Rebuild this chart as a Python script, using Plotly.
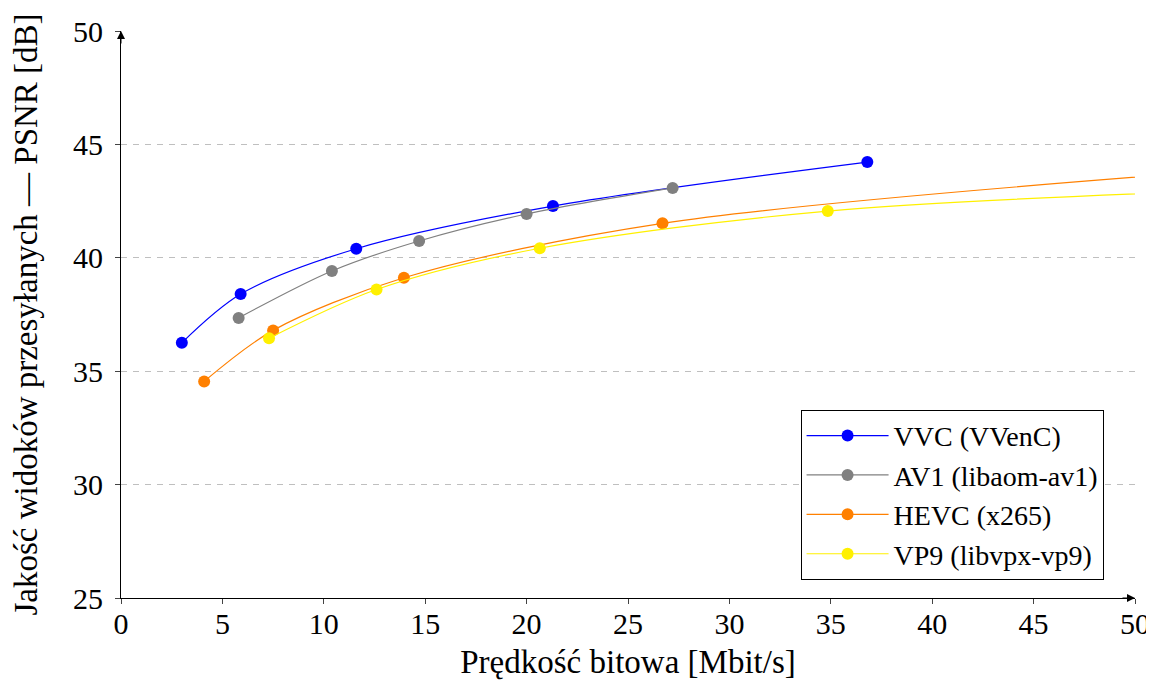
import plotly.graph_objects as go

# Data
vvc_x = [3.0, 5.9, 11.6, 21.3, 36.8]
vvc_y = [36.25, 38.4, 40.4, 42.28, 44.22]

av1_x = [5.8, 10.4, 14.7, 20.0, 27.2]
av1_y = [37.35, 39.42, 40.74, 41.93, 43.08]

hevc_x = [4.1, 7.5, 13.95, 26.7, 56.5]
hevc_y = [34.55, 36.8, 39.12, 41.52, 44.0]

vp9_x = [7.3, 12.6, 20.65, 34.85, 58.0]
vp9_y = [36.45, 38.6, 40.42, 42.06, 43.1]

names = ["VVC (VVenC)", "AV1 (libaom-av1)", "HEVC (x265)", "VP9 (libvpx-vp9)"]
colors = ["#0000ff", "#808080", "#ff8000", "#fff000"]

x_ticks = [0, 5, 10, 15, 20, 25, 30, 35, 40, 45, 50]
y_ticks = [25, 30, 35, 40, 45, 50]

FONT = "Liberation Serif"
FS_TICK = 30
FS_TEXT = 33
FS_LEG = 28

fig = go.Figure()
for xs, ys, nm, c in zip([vvc_x, av1_x, hevc_x, vp9_x], [vvc_y, av1_y, hevc_y, vp9_y], names, colors):
    fig.add_trace(go.Scatter(
        x=xs, y=ys, name=nm, mode="lines+markers",
        line=dict(color=c, width=1.2, shape="spline", smoothing=0.9),
        marker=dict(color=c, size=12),
        cliponaxis=True,
    ))

# the page body has an 8px margin, so the figure is sized to fit the window
fig.update_layout(
    width=1146, height=672,
    margin=dict(l=113, r=19, t=23, b=82),
    paper_bgcolor="white", plot_bgcolor="white",
    font=dict(family=FONT, size=FS_TEXT, color="black"),
    showlegend=True,
    legend=dict(
        x=0.969, y=0.032, xanchor="right", yanchor="bottom",
        bgcolor="white", bordercolor="black", borderwidth=1,
        font=dict(family=FONT, size=FS_LEG), tracegroupgap=0,
        itemwidth=82,
    ),
    xaxis=dict(
        range=[0, 50], tickvals=x_ticks, ticks="outside", ticklen=5,
        ticklabelstandoff=-6,
        showgrid=False, zeroline=False, showline=True, linecolor="black", linewidth=1,
        tickfont=dict(family=FONT, size=FS_TICK), automargin=False,
        title=dict(text="Prędkość bitowa [Mbit/s]", font=dict(family=FONT, size=FS_TEXT)),
    ),
    yaxis=dict(
        range=[25, 50], tickvals=y_ticks, ticks="outside", ticklen=5,
        ticklabelstandoff=6,
        showgrid=True, gridcolor="#bfbfbf", griddash="6px,6px", gridwidth=1,
        zeroline=False, showline=True, linecolor="black", linewidth=1,
        tickfont=dict(family=FONT, size=FS_TICK), automargin=False,
        title=dict(text="Jakość widoków przesyłanych — PSNR [dB]", font=dict(family=FONT, size=FS_TEXT),
                   standoff=60),
    ),
)

# Axis arrowheads
fig.add_annotation(x=0, y=50, xref="x", yref="y", ax=0, ay=14,
                   showarrow=True, arrowhead=2, arrowsize=1.6, arrowwidth=1, arrowcolor="black", text="")
fig.add_annotation(x=50, y=25, xref="x", yref="y", ax=-14, ay=0,
                   showarrow=True, arrowhead=2, arrowsize=1.6, arrowwidth=1, arrowcolor="black", text="")

fig.write_html("out.html")
